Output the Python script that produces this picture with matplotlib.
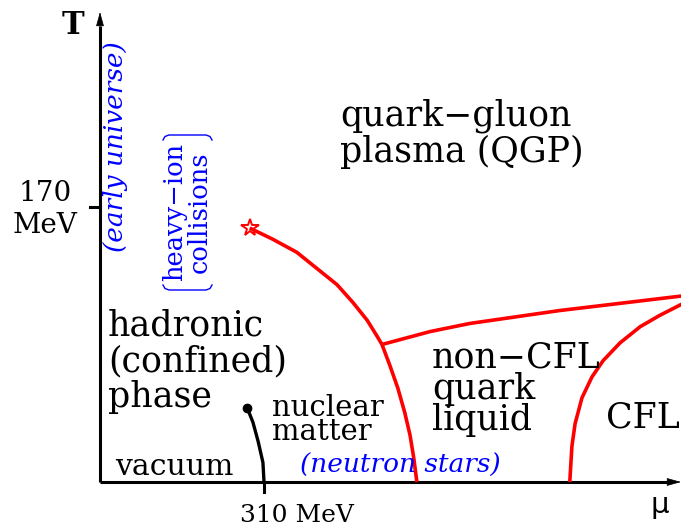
import matplotlib
matplotlib.use("Agg")
import matplotlib.pyplot as plt
import numpy as np

# ---------------- data (mu in MeV, T in MeV) ----------------
crit_mu, crit_T = 283, 157
# first-order line from the critical point down to the mu axis
line1_mu = [283, 327, 372, 410, 448, 478, 505, 524, 533, 548, 563, 576, 586, 593, 599]
line1_T = [157, 150, 142, 132, 122, 111, 100, 90, 85, 72, 58, 43, 29, 15, 0]
# non-CFL / QGP boundary
line2_mu = [533, 624, 699, 869, 1100]
line2_T = [85, 93, 98, 106, 115]
# CFL boundary
line3_mu = [888, 892, 898, 911, 930, 951, 983, 1021, 1058, 1100]
line3_T = [0, 22, 36, 52, 65, 75, 86, 96, 103, 110]
# nuclear matter line
nuc_mu = [278, 289, 299, 308, 310]
nuc_T = [46, 37, 25, 12, 0]
T_tick = 170
mu_tick = 310
T_tick_label = "170\nMeV"
mu_tick_label = "310 MeV"

# ---------------- layout ----------------
W, H = 681, 527
x0px, y0px = 100, 482
kx = (264 - x0px) / mu_tick       # px per MeV
ky = (y0px - 207) / T_tick        # px per MeV

def P(xp, yp):
    return (xp - x0px) / kx, (y0px - yp) / ky

fig = plt.figure(figsize=(W / 100, H / 100), dpi=100)
ax = fig.add_axes([0, 0, 1, 1])
ax.set_xlim(-x0px / kx, (W - x0px) / kx)
ax.set_ylim(-(H - y0px) / ky, y0px / ky)
ax.axis("off")

serif = ["DejaVu Serif"]
red = "#ff0000"
blue = "#0000ff"

# axes with arrows
xend = P(668, 0)[0]
ytop = P(0, 26)[1]
ax.plot([0, xend], [0, 0], color="black", lw=2.2, solid_capstyle="butt")
ax.plot([0, 0], [0, ytop], color="black", lw=2.2, solid_capstyle="butt")
ax.annotate("", xy=P(681, 482), xytext=P(662, 482),
            arrowprops=dict(arrowstyle="-|>,head_length=0.9,head_width=0.25",
                            color="black", lw=0.5, shrinkA=0, shrinkB=0))
ax.annotate("", xy=P(100, 12), xytext=P(100, 31),
            arrowprops=dict(arrowstyle="-|>,head_length=0.9,head_width=0.25",
                            color="black", lw=0.5, shrinkA=0, shrinkB=0))
# ticks
ax.plot([P(90, 0)[0], 0], [T_tick, T_tick], color="black", lw=2.2)
ax.plot([mu_tick, mu_tick], [0, P(0, 492)[1]], color="black", lw=2.2)

# phase lines
for xs, ys in [(line1_mu, line1_T), (line2_mu, line2_T), (line3_mu, line3_T)]:
    ax.plot(xs, ys, color=red, lw=2.6, solid_capstyle="butt", solid_joinstyle="round")
ax.plot([crit_mu], [crit_T], marker="*", ms=13, mfc="none", mec=red, mew=1.4)
ax.plot(nuc_mu, nuc_T, color="black", lw=2.4, solid_capstyle="butt",
        solid_joinstyle="round")
ax.plot([nuc_mu[0]], [nuc_T[0]], "o", color="black", ms=6)

fs = 25
def txt(xp, yp, s, **kw):
    d = dict(family=serif, fontsize=fs, color="black", ha="left", va="baseline",
             linespacing=1.06)
    d.update(kw)
    ax.text(*P(xp, yp), s, **d)

# axis labels
txt(73, 34, "T", fontsize=22, fontweight="bold", ha="center")
txt(660, 513, "μ", fontsize=21, family=["DejaVu Sans"], ha="center")
txt(45, 233, T_tick_label, fontsize=20, ha="center", linespacing=1.25)
txt(297, 522, mu_tick_label, fontsize=18, ha="center")

# region labels
txt(340, 162, "quark−gluon\nplasma (QGP)")
txt(108, 407, "hadronic\n(confined)\nphase")
txt(272, 440, "nuclear\nmatter", fontsize=21, linespacing=0.8)
txt(115, 475, "vacuum", fontsize=21.5)
txt(432, 430, "non−CFL\nquark\nliquid", linespacing=0.9)
txt(606, 427, "CFL")

# blue annotations
txt(400, 473, "(neutron stars)", color=blue, fontsize=19, style="italic", ha="center")
ax.text(*P(115, 147), "(early universe)", family=serif, fontsize=19, color=blue,
        style="italic", rotation=90, ha="center", va="center")
ax.text(*P(187, 212), "heavy−ion\ncollisions", family=serif, fontsize=18.5, color=blue,
        rotation=90, ha="center", va="center", linespacing=0.95)

# thin brackets around the heavy-ion label (figure pixel coordinates)
def fpx(xs, ys):
    return [x / W for x in xs], [1 - y / H for y in ys]
for yb, s in [(135, 1), (290, -1)]:
    bx = [163, 165, 169, 206, 210, 212]
    by = [yb + 5 * s, yb + 1.5 * s, yb, yb, yb + 1.5 * s, yb + 5 * s]
    fx, fy = fpx(bx, by)
    fig.add_artist(plt.Line2D(fx, fy, color=blue, lw=1.0, transform=fig.transFigure))

fig.savefig("out.png", dpi=100)
